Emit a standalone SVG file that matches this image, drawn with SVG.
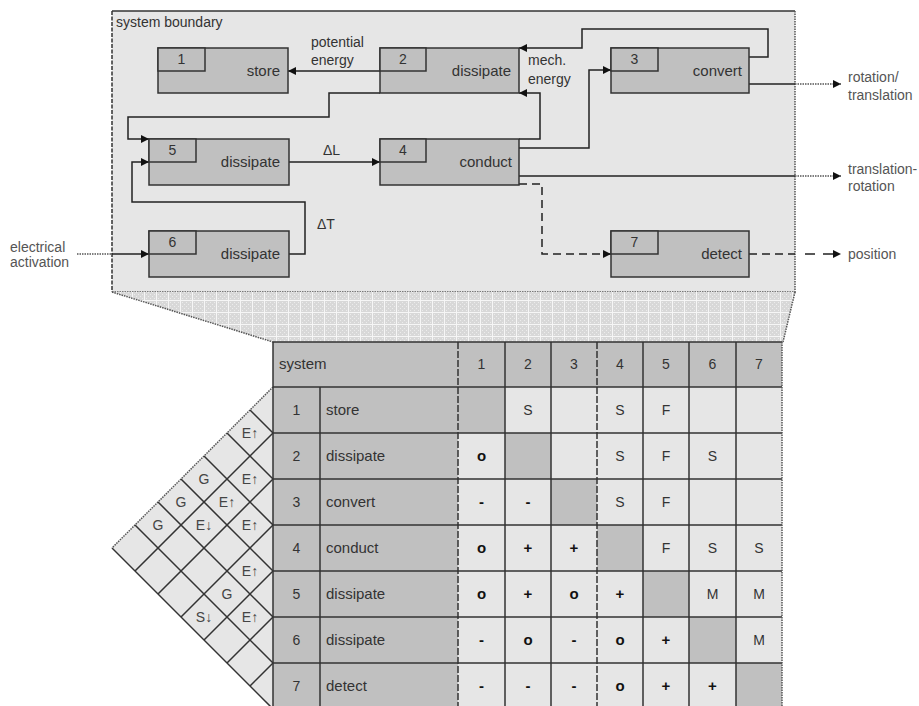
<svg xmlns="http://www.w3.org/2000/svg" width="919" height="706" viewBox="0 0 919 706">
<style>
text{font-family:"Liberation Sans",Arial,sans-serif;fill:#333}
.nb{fill:#c0c0c0;stroke:#333;stroke-width:1.5}
.lbl{font-size:15px;text-anchor:end}
.num{font-size:14px;text-anchor:middle}
.el{font-size:14px}
.ext{font-size:14px;fill:#555}
.c{fill:none;stroke:#222;stroke-width:1.5}
.dash{stroke-dasharray:8,5}
.dot{fill:none;stroke:#555;stroke-width:1.5;stroke-dasharray:1.5,1}
.cl{fill:#e6e6e6}
.cd{fill:#c0c0c0}
.g{stroke:#333;stroke-width:1.5;fill:none}
.t{font-size:14px;text-anchor:middle}
.s{font-size:15px;font-weight:bold;text-anchor:middle;fill:#111}
.rf{font-size:14px;text-anchor:middle;fill:#444}
</style>
<defs>
<marker id="ah" viewBox="0 0 10 10" refX="10" refY="5" markerWidth="8" markerHeight="8" markerUnits="userSpaceOnUse" orient="auto">
<path d="M0,0 L10,5 L0,10 z" fill="#111"/>
</marker>
<pattern id="hatch" width="12" height="12" patternUnits="userSpaceOnUse">
<rect width="12" height="12" fill="#d8d8d8"/>
<path d="M0,0h1v1h-1zM2,2h1v1h-1zM4,4h1v1h-1zM6,6h1v1h-1zM8,8h1v1h-1zM10,10h1v1h-1zM4,0h1v1h-1zM8,0h1v1h-1zM0,4h1v1h-1zM0,8h1v1h-1zM6,2h1v1h-1zM10,2h1v1h-1zM2,6h1v1h-1zM10,6h1v1h-1zM2,10h1v1h-1zM6,10h1v1h-1zM8,4h1v1h-1zM4,8h1v1h-1z" fill="#ececec"/>
<path d="M0,0.5H12M0.5,0V12" stroke="#f6f6f6" stroke-width="1"/>
</pattern>
</defs>

<g id="boundary">
<rect x="112" y="11" width="683" height="281" fill="#e6e6e6"/>
<path d="M112,11 H795" class="g"/>
<path d="M112,11 V292" stroke="#333" stroke-width="1.5" stroke-dasharray="4,1.5"/>
<path d="M795,11 V292 H112" class="dot"/>
<text x="116" y="27" class="el">system boundary</text>
</g>

<g id="hatch-band">
<polygon points="112,292 795,292 783,342 273,342" fill="url(#hatch)"/>
<path d="M112,292 L273,342" class="dot"/>
<path d="M795,292 L783,342" class="dot"/>
</g>

<g id="connectors">
<path d="M380,71 H288" class="c" marker-end="url(#ah)"/>
<path d="M749,57 H768 V29 H582 V48 H519" class="c" marker-end="url(#ah)"/>
<path d="M519,139 H540 V93 H519" class="c" marker-end="url(#ah)"/>
<path d="M519,148 H589 V70 H611" class="c" marker-end="url(#ah)"/>
<path d="M519,176 H795" class="c"/>
<path d="M795,176 H841" class="dot" marker-end="url(#ah)"/>
<path d="M519,184 H542 V254 H611" class="c dash" marker-end="url(#ah)"/>
<path d="M749,254 H795" class="c dash"/>
<path d="M805,254 H841" class="c" stroke-dasharray="10,8" marker-end="url(#ah)"/>
<path d="M749,84 H795" class="c"/>
<path d="M795,84 H841" class="dot" marker-end="url(#ah)"/>
<path d="M380,93 H329 V117 H128 V139 H149" class="c" marker-end="url(#ah)"/>
<path d="M289,162 H380" class="c" marker-end="url(#ah)"/>
<path d="M289,254 H305 V202 H132 V162 H149" class="c" marker-end="url(#ah)"/>
<path d="M77,254 H112" class="dot"/>
<path d="M112,254 H149" class="c" marker-end="url(#ah)"/>
<text x="311" y="47" class="el">potential</text>
<text x="311" y="65" class="el">energy</text>
<text x="528" y="65" class="el">mech.</text>
<text x="528" y="84" class="el">energy</text>
<text x="323" y="155" class="el">ΔL</text>
<text x="317" y="229" class="el">ΔT</text>
<text x="10" y="252" class="ext">electrical</text>
<text x="10" y="267" class="ext">activation</text>
<text x="848" y="82" class="ext">rotation/</text>
<text x="848" y="100" class="ext">translation</text>
<text x="848" y="174" class="ext">translation-</text>
<text x="848" y="191" class="ext">rotation</text>
<text x="848" y="259" class="ext">position</text>
</g>

<g id="node1">
<rect x="158" y="48" width="130" height="45" class="nb"/>
<rect x="158" y="48" width="47" height="23" class="nb"/>
<text x="181.5" y="64" class="num">1</text>
<text x="280" y="76" class="lbl">store</text>
</g>
<g id="node2">
<rect x="380" y="48" width="139" height="45" class="nb"/>
<rect x="380" y="48" width="46" height="23" class="nb"/>
<text x="403" y="64" class="num">2</text>
<text x="511" y="76" class="lbl">dissipate</text>
</g>
<g id="node3">
<rect x="611" y="48" width="138" height="45" class="nb"/>
<rect x="611" y="48" width="47" height="23" class="nb"/>
<text x="634.5" y="64" class="num">3</text>
<text x="742" y="76" class="lbl">convert</text>
</g>
<g id="node5">
<rect x="149" y="139" width="140" height="46" class="nb"/>
<rect x="149" y="139" width="47" height="23" class="nb"/>
<text x="172.5" y="155" class="num">5</text>
<text x="280" y="167" class="lbl">dissipate</text>
</g>
<g id="node4">
<rect x="380" y="139" width="139" height="46" class="nb"/>
<rect x="380" y="139" width="46" height="23" class="nb"/>
<text x="403" y="155" class="num">4</text>
<text x="512" y="167" class="lbl">conduct</text>
</g>
<g id="node6">
<rect x="149" y="231" width="140" height="46" class="nb"/>
<rect x="149" y="231" width="47" height="23" class="nb"/>
<text x="172.5" y="247" class="num">6</text>
<text x="280" y="259" class="lbl">dissipate</text>
</g>
<g id="node7">
<rect x="611" y="231" width="138" height="46" class="nb"/>
<rect x="611" y="231" width="47" height="23" class="nb"/>
<text x="634.5" y="247" class="num">7</text>
<text x="742" y="259" class="lbl">detect</text>
</g>

<g id="roof">
<polygon points="273,387 112,548 273,709" fill="#e6e6e6"/>
<path d="M273,387 L112,548" class="dot"/>
<path d="M112,548 L273,709" class="g"/>
<path d="M273,433 L135,571 M273,479 L158,594 M273,525 L181,617 M273,571 L204,640 M273,617 L227,663 M273,663 L250,686" class="g"/>
<path d="M273,433 L250,410 M273,479 L227,433 M273,525 L204,456 M273,571 L181,479 M273,617 L158,502 M273,663 L135,525" class="g"/>
<text x="250" y="438" class="rf">E↑</text>
<text x="250" y="484" class="rf">E↑</text>
<text x="204" y="484" class="rf">G</text>
<text x="227" y="507" class="rf">E↑</text>
<text x="181" y="507" class="rf">G</text>
<text x="158" y="530" class="rf">G</text>
<text x="204" y="530" class="rf">E↓</text>
<text x="250" y="530" class="rf">E↑</text>
<text x="250" y="576" class="rf">E↑</text>
<text x="227" y="599" class="rf">G</text>
<text x="204" y="622" class="rf">S↓</text>
<text x="250" y="622" class="rf">E↑</text>
</g>

<g id="matrix">
<rect x="273" y="342" width="509" height="45" class="cd"/>
<rect x="273" y="387" width="185" height="322" class="cd"/>
<rect x="458" y="387" width="324" height="322" class="cl"/>
<rect x="458" y="387" width="47" height="46" class="cd"/>
<rect x="505" y="433" width="46" height="46" class="cd"/>
<rect x="551" y="479" width="46" height="46" class="cd"/>
<rect x="597" y="525" width="46" height="46" class="cd"/>
<rect x="643" y="571" width="46" height="46" class="cd"/>
<rect x="689" y="617" width="47" height="46" class="cd"/>
<rect x="736" y="663" width="46" height="46" class="cd"/>
<path d="M273,342 H782 M273,387 H782 M273,433 H782 M273,479 H782 M273,525 H782 M273,571 H782 M273,617 H782 M273,663 H782" class="g"/>
<path d="M273,342 V709 M320,387 V709 M505,342 V709 M551,342 V709 M643,342 V709 M689,342 V709 M736,342 V709" class="g"/>
<path d="M458,342 V709 M597,342 V709" class="g" stroke-dasharray="7,2"/>
<path d="M782,342 V709" class="dot"/>
<text x="279" y="369" class="el" style="font-size:15px">system</text>
<text x="481.5" y="369" class="t">1</text>
<text x="528" y="369" class="t">2</text>
<text x="574" y="369" class="t">3</text>
<text x="620" y="369" class="t">4</text>
<text x="666" y="369" class="t">5</text>
<text x="712.5" y="369" class="t">6</text>
<text x="759" y="369" class="t">7</text>
<text x="296.5" y="415" class="t">1</text><text x="326" y="415" class="el" style="font-size:15px">store</text>
<text x="296.5" y="461" class="t">2</text><text x="326" y="461" class="el" style="font-size:15px">dissipate</text>
<text x="296.5" y="507" class="t">3</text><text x="326" y="507" class="el" style="font-size:15px">convert</text>
<text x="296.5" y="553" class="t">4</text><text x="326" y="553" class="el" style="font-size:15px">conduct</text>
<text x="296.5" y="599" class="t">5</text><text x="326" y="599" class="el" style="font-size:15px">dissipate</text>
<text x="296.5" y="645" class="t">6</text><text x="326" y="645" class="el" style="font-size:15px">dissipate</text>
<text x="296.5" y="691" class="t">7</text><text x="326" y="691" class="el" style="font-size:15px">detect</text>
<text x="528" y="415" class="t">S</text><text x="620" y="415" class="t">S</text><text x="666" y="415" class="t">F</text>
<text x="481.5" y="461" class="s">o</text><text x="620" y="461" class="t">S</text><text x="666" y="461" class="t">F</text><text x="712.5" y="461" class="t">S</text>
<text x="481.5" y="507" class="s">-</text><text x="528" y="507" class="s">-</text><text x="620" y="507" class="t">S</text><text x="666" y="507" class="t">F</text>
<text x="481.5" y="553" class="s">o</text><text x="528" y="553" class="s">+</text><text x="574" y="553" class="s">+</text><text x="666" y="553" class="t">F</text><text x="712.5" y="553" class="t">S</text><text x="759" y="553" class="t">S</text>
<text x="481.5" y="599" class="s">o</text><text x="528" y="599" class="s">+</text><text x="574" y="599" class="s">o</text><text x="620" y="599" class="s">+</text><text x="712.5" y="599" class="t">M</text><text x="759" y="599" class="t">M</text>
<text x="481.5" y="645" class="s">-</text><text x="528" y="645" class="s">o</text><text x="574" y="645" class="s">-</text><text x="620" y="645" class="s">o</text><text x="666" y="645" class="s">+</text><text x="759" y="645" class="t">M</text>
<text x="481.5" y="691" class="s">-</text><text x="528" y="691" class="s">-</text><text x="574" y="691" class="s">-</text><text x="620" y="691" class="s">o</text><text x="666" y="691" class="s">+</text><text x="712.5" y="691" class="s">+</text>
</g>
</svg>
